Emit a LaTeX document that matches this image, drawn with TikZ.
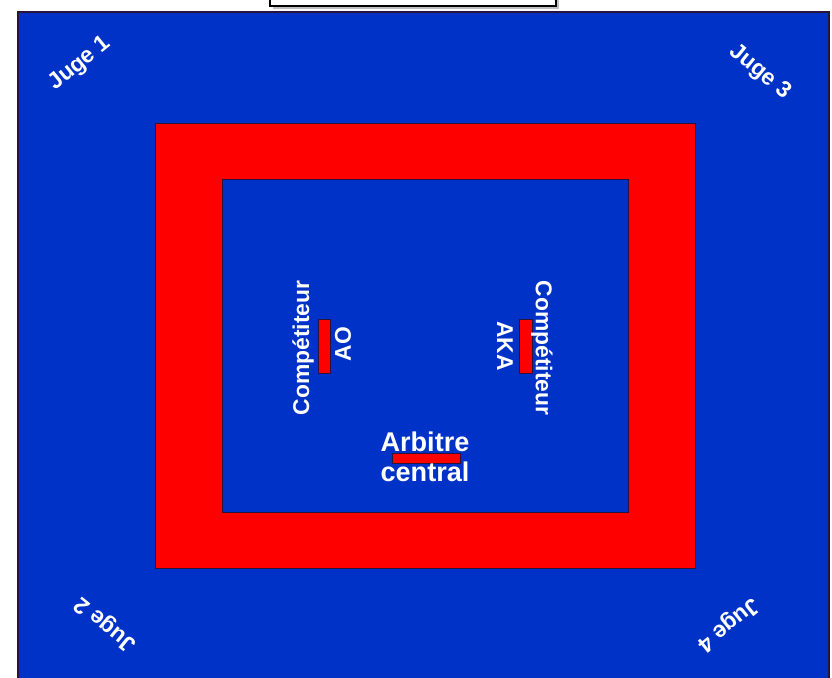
\documentclass[tikz,border=0pt]{standalone}
\usepackage{fontspec}
\setmainfont{Liberation Sans}
\definecolor{matBlue}{RGB}{0,50,200}
\definecolor{matRed}{RGB}{255,0,0}
\definecolor{edgeColor}{RGB}{40,20,60}
\tikzset{
  juge/.style={white, font=\fontsize{13}{15}\selectfont\bfseries, inner sep=0pt},
  comp/.style={white, font=\fontsize{13}{15}\selectfont\bfseries, inner sep=0pt},
  arb/.style={white, font=\fontsize{15.4}{17}\selectfont\bfseries, inner sep=0pt},
  marque/.style={fill=matRed, draw=edgeColor, line width=0.4pt}
}
\begin{document}
\begin{tikzpicture}[x=0.02cm, y=0.02cm]
                \useasboundingbox (0,0) rectangle (832,677);
                \clip (0,0) rectangle (832,677);
                \fill[white] (0,0) rectangle (832,677);

                % Tapis exterieur (zone de securite)
                \draw[edgeColor, line width=0.8pt, fill=matBlue] (18,-5) rectangle (829,665);

                % Cadre rouge
                \draw[edgeColor, line width=0.5pt, fill=matRed] (155,109) rectangle (695,554);
                % Aire de combat
                \draw[edgeColor, line width=0.5pt, fill=matBlue] (222,165) rectangle (628,498);

                % Table (coupee en haut)
                \fill[gray!50] (273,668) rectangle (559,690);
                \draw[black, line width=0.8pt, fill=white] (270,671) rectangle (556,690);

                % Juges dans les coins
                \node[juge, rotate=39] (juge1) at (80,613) {Juge 1};
                \node[juge, rotate=-39] (juge3) at (760,605) {Juge 3};
                \node[juge, rotate=141] (juge2) at (106,53) {Juge 2};
                \node[juge, rotate=-141] (juge4) at (728,53) {Juge 4};

                % Competiteur AO
                \draw[marque] (318,304) rectangle (330,358);
                \node[comp, rotate=90] (compAO) at (303,329) {Compétiteur};
                \node[comp, rotate=90] (ao) at (343,333) {AO};

                % Competiteur AKA
                \draw[marque] (519,304) rectangle (532,358);
                \node[comp, rotate=-90] (compAKA) at (542,329) {Compétiteur};
                \node[comp, rotate=-90] (aka) at (505,331) {AKA};

                % Arbitre central
                \draw[marque] (392,214) rectangle (460,224);
                \node[arb] (arbitre) at (425,235) {Arbitre};
                \node[arb] (central) at (425,205) {central};
\end{tikzpicture}
\end{document}
